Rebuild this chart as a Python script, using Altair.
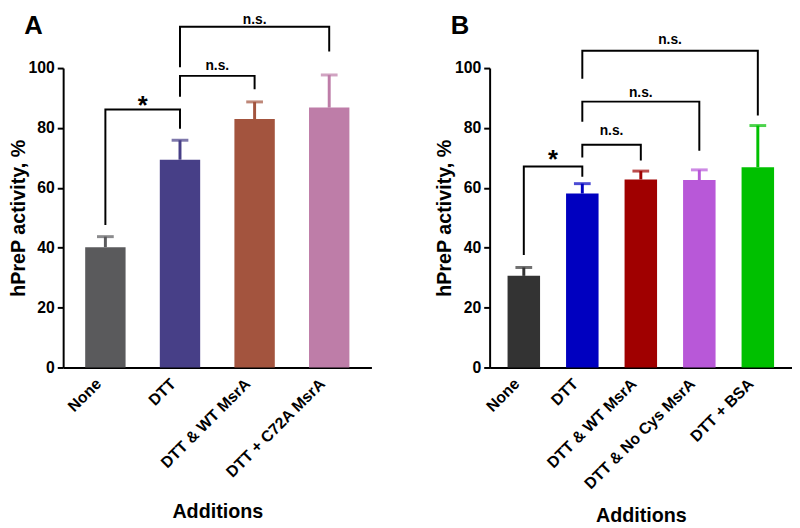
import json
import altair as alt
import pandas as pd

FONT = "Liberation Sans"

# ---------------- Panel A ----------------
cats_a = ["None", "DTT", "DTT & WT MsrA", "DTT + C72A MsrA"]
mean_a = [40.2, 69.4, 83.0, 86.8]
err_a = [3.5, 6.5, 5.7, 10.9]
colors_a = ["#5a5a5c", "#473f87", "#a3543e", "#be7da8"]

brk_a_from = [0, 1, 1]
brk_a_to = [1, 2, 3]
brk_a_top = [86.2, 97.4, 113.8]
brk_a_lo1 = [47.6, 90.4, 100.3]
brk_a_lo2 = [79.7, 92.9, 105.5]
brk_a_text = ["*", "n.s.", "n.s."]
brk_a_texty = [89.4, 100.6, 116.1]

# ---------------- Panel B ----------------
cats_b = ["None", "DTT", "DTT & WT MsrA", "DTT & No Cys MsrA", "DTT + BSA"]
mean_b = [30.6, 58.1, 62.8, 62.6, 66.9]
err_b = [2.8, 3.3, 2.8, 3.4, 13.9]
colors_b = ["#333333", "#0000c0", "#a00000", "#b858d8", "#00c000"]

brk_b_from = [0, 1, 1, 1]
brk_b_to = [1, 2, 3, 4]
brk_b_top = [67.1, 74.4, 88.8, 105.8]
brk_b_lo1 = [37.6, 70.1, 82.1, 96.4]
brk_b_lo2 = [63.7, 69.1, 72.4, 84.2]
brk_b_text = ["*", "n.s.", "n.s.", "n.s."]
brk_b_texty = [71.1, 78.8, 91.6, 109.3]

y_ticks = [0, 20, 40, 60, 80, 100]


def panel(cats, means, errs, colors, bfrom, bto, btop, blo1, blo2, btext, btexty,
          letter, width, barsize, xtitle_pad):
    n = len(cats)
    bars = pd.DataFrame({
        "x": list(range(n)),
        "cat": cats,
        "y": means,
        "y2": [m + e for m, e in zip(means, errs)],
        "color": colors,
    })
    rows = []
    for k in range(len(bfrom)):
        rows += [
            {"id": k, "ord": 0, "x": bfrom[k], "y": blo1[k]},
            {"id": k, "ord": 1, "x": bfrom[k], "y": btop[k]},
            {"id": k, "ord": 2, "x": bto[k], "y": btop[k]},
            {"id": k, "ord": 3, "x": bto[k], "y": blo2[k]},
        ]
    bdf = pd.DataFrame(rows)
    tdf = pd.DataFrame({
        "x": [(a + b) / 2 for a, b in zip(bfrom, bto)],
        "y": btexty,
        "label": btext,
    })

    x_enc = alt.X(
        "x:Q",
        scale=alt.Scale(domain=[-0.5, n - 0.5], nice=False, zero=False),
        axis=alt.Axis(
            values=list(range(n)),
            labelExpr=json.dumps(cats) + "[datum.value]",
            labelAngle=-45,
            ticks=False,
            grid=False,
            labelPadding=8,
            labelOffset=-13,
            title="Additions",
            titlePadding=xtitle_pad,
        ),
    )
    y_enc = alt.Y(
        "y:Q",
        scale=alt.Scale(domain=[0, 100], nice=False, zero=True),
        axis=alt.Axis(
            values=y_ticks,
            grid=False,
            tickSize=6,
            labelPadding=3,
            title="hPreP activity, %",
            titlePadding=0,
        ),
    )
    col = alt.Color("color:N", scale=None)

    bar = alt.Chart(bars).mark_bar(size=barsize).encode(x=x_enc, y=y_enc, color=col)
    err = alt.Chart(bars).mark_rule(strokeWidth=3).encode(
        x="x:Q", y="y:Q", y2="y2:Q", color=col)
    cap = alt.Chart(bars).mark_tick(orient="horizontal", size=17, thickness=3).encode(
        x="x:Q", y="y2:Q", color=col)
    brk = alt.Chart(bdf).mark_line(color="black", strokeWidth=2).encode(
        x="x:Q", y="y:Q", detail="id:N", order="ord:Q")
    ns = alt.Chart(tdf).transform_filter("datum.label != '*'").mark_text(
        font=FONT, fontSize=14, fontWeight="bold", baseline="middle", color="black"
    ).encode(x="x:Q", y="y:Q", text="label:N")
    star = alt.Chart(tdf).transform_filter("datum.label == '*'").mark_text(
        font=FONT, fontSize=26, fontWeight="bold", baseline="middle", dy=6, color="black"
    ).encode(x="x:Q", y="y:Q", text="label:N")
    let = alt.Chart(pd.DataFrame({"t": [letter]})).mark_text(
        font=FONT, fontSize=26, fontWeight="bold", baseline="middle", color="black"
    ).encode(text="t:N", x=alt.value(-30), y=alt.value(-43))
    hedge = alt.Chart(pd.DataFrame({"t": ["."]})).mark_text(
        font=FONT, fontSize=14, baseline="top", opacity=0
    ).encode(text="t:N", x=alt.value(0), y=alt.value(-57))

    return alt.layer(bar, err, cap, brk, ns, star, let, hedge).properties(
        width=width, height=304)


pa = panel(cats_a, mean_a, err_a, colors_a, brk_a_from, brk_a_to, brk_a_top,
           brk_a_lo1, brk_a_lo2, brk_a_text, brk_a_texty, "A", 313, 41, 22)
pb = panel(cats_b, mean_b, err_b, colors_b, brk_b_from, brk_b_to, brk_b_top,
           brk_b_lo1, brk_b_lo2, brk_b_text, brk_b_texty, "B", 307, 33, 14)

chart = alt.hconcat(pa, pb, spacing=64).properties(
    padding={"left": 0, "top": 0, "right": 0, "bottom": 0}
).configure_view(stroke=None).configure_axis(
    labelFont=FONT, labelFontSize=16, labelFontWeight="bold", labelColor="black",
    titleFont=FONT, titleFontSize=20, titleFontWeight="bold", titleColor="black",
    domainColor="black", domainWidth=2, tickColor="black", tickWidth=2,
    labelOverlap=False,
)

chart.save("out.html", embed_options={"renderer": "svg", "actions": False})
